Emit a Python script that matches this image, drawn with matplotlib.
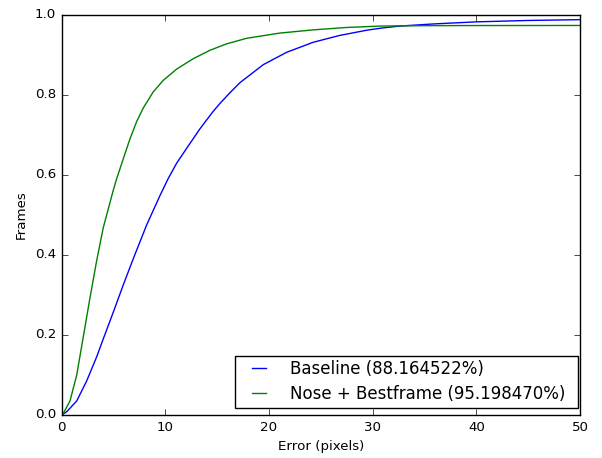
import numpy as np
import matplotlib
matplotlib.use('Agg')
import matplotlib.pyplot as plt
from matplotlib.patches import Rectangle

# values
base_x = [0, 0.48, 1.45, 2.41, 3.37, 4.01, 4.98, 5.94, 6.9, 8.2, 9.48, 10.28,
          11.09, 12.05, 13.34, 14.6, 15.26, 16.23, 17.19, 19.44, 21.7, 24.26,
          26.8, 29.4, 30.7, 32.6, 36, 40, 45, 50]
base_y = [0, 0.008, 0.035, 0.085, 0.145, 0.19, 0.257, 0.325, 0.39, 0.475,
          0.548, 0.591, 0.629, 0.666, 0.715, 0.758, 0.778, 0.805, 0.830, 0.875,
          0.906, 0.931, 0.948, 0.961, 0.966, 0.9715, 0.977, 0.982, 0.9855, 0.9875]

best_x = [0, 0.16, 0.8, 1.45, 2.08, 2.73, 3.37, 4.01, 4.98, 5.30, 5.94, 6.59,
          7.23, 7.87, 8.83, 9.80, 11.09, 12.69, 14.3, 15.9, 17.84, 21.05, 24.26,
          27.5, 30.7, 35, 40, 50]
best_y = [0, 0.004, 0.035, 0.10, 0.195, 0.293, 0.385, 0.468, 0.562, 0.590,
          0.64, 0.69, 0.733, 0.767, 0.807, 0.836, 0.864, 0.890, 0.911, 0.927,
          0.941, 0.954, 0.962, 0.968, 0.9715, 0.9725, 0.9728, 0.973]

labels = ['Baseline (88.164522%)', 'Nose + Bestframe (95.198470%)']

plt.style.use('classic')
plt.rcParams['font.size'] = 9.6

fig = plt.figure(figsize=(6.02, 4.58), dpi=100, facecolor='white')
ax = fig.add_axes([0.1025, 0.094, 0.861, 0.874])

ax.plot(base_x, base_y, color='b', label=labels[0])
ax.plot(best_x, best_y, color='g', label=labels[1])

ax.set_xlim(0, 50)
ax.set_ylim(0, 1.0)
ax.set_xticks(np.arange(0, 51, 10))
ax.set_yticks(np.arange(0, 1.01, 0.2))
ax.set_xlabel('Error (pixels)', fontsize=9.6)
ax.set_ylabel('Frames', fontsize=9.6)

leg = ax.legend(loc='lower right', bbox_to_anchor=(0.984, 0.0132), borderaxespad=0,
                frameon=False, fontsize=12, handlelength=1.45, handletextpad=1.1,
                labelspacing=0.4, borderpad=0.4)
leg.set_zorder(6)

# legend frame a bit wider than the default padding
fig.canvas.draw()
bb = leg.get_window_extent()
frame = Rectangle((bb.x0 - 6, bb.y0 + 2), bb.width + 12, bb.height - 4,
                  transform=None, facecolor='white', edgecolor='black',
                  linewidth=1, zorder=5)
ax.add_patch(frame)

plt.savefig('out.png', dpi=100, facecolor='white')
